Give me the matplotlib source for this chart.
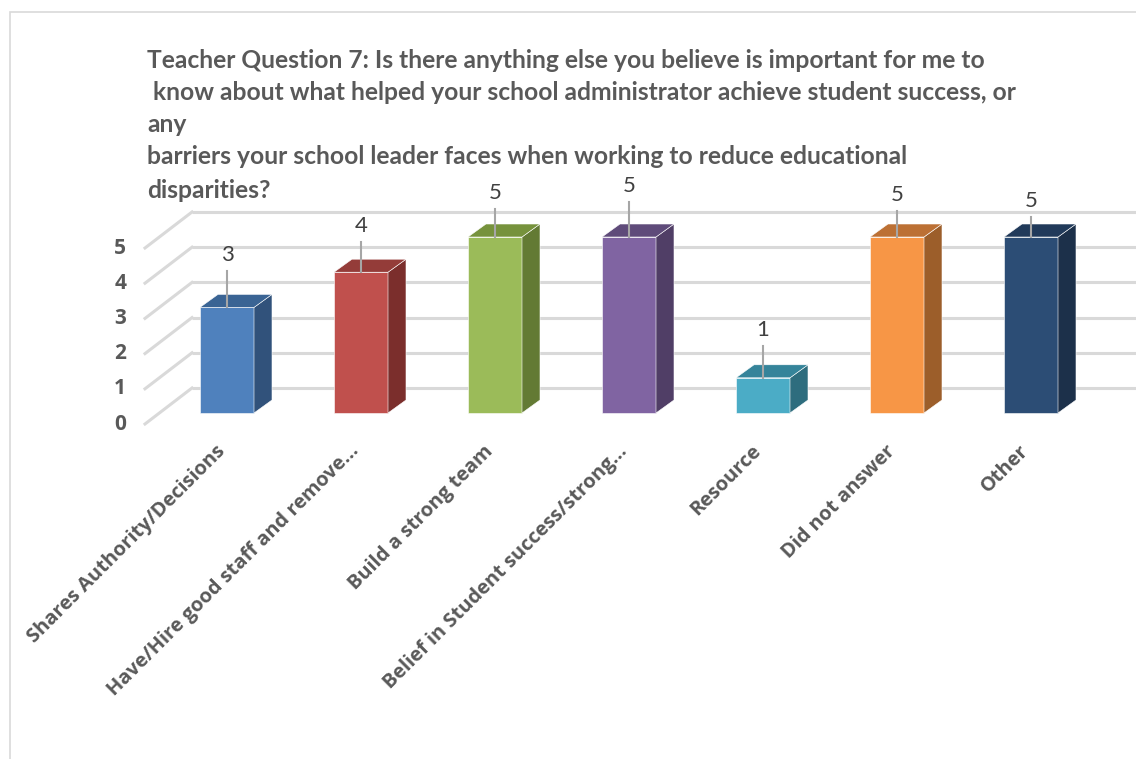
import matplotlib.pyplot as plt
from matplotlib.patches import Polygon, Rectangle

# survey answers for teacher question 7
categories = ['Shares Authority/Decisions', 'Have/Hire good staff and remove\u2026',
              'Build a strong team', 'Belief in Student success/strong\u2026',
              'Resource', 'Did not answer', 'Other']
counts = [3, 4, 5, 5, 1, 5, 5]
y_ticks = [0, 1, 2, 3, 4, 5]

title_lines = ['Teacher Question 7: Is there anything else you believe is important for me to',
               ' know about what helped your school administrator achieve student success, or',
               'any',
               'barriers your school leader faces when working to reduce educational',
               'disparities?']

# front / top / side shades of each bar
front_cols = ['#4F81BD', '#C0504D', '#9BBB59', '#8064A2', '#4BACC6', '#F79646', '#2C4D75']
top_cols = ['#3A6494', '#943C39', '#76923C', '#5F4B7A', '#35849A', '#BC7034', '#213A5A']
side_cols = ['#31527B', '#7B2E2C', '#637A34', '#503E66', '#2E6D7E', '#9C5E2A', '#1C304A']

# how far each data label sits above its bar (layout only)
label_lift = [1.49, 1.30, 1.25, 1.45, 1.35, 1.20, 1.03]

W, H = 1136, 759
fig = plt.figure(figsize=(W / 100, H / 100), dpi=100)
ax = fig.add_axes([0, 0, 1, 1])

# one category step = 134 px, one value unit = 35.2 px
x_px0, y_px0, sx, sy = 227, 413, 134.0, 35.2
ax.set_xlim(-x_px0 / sx, (W - x_px0) / sx)
ax.set_ylim((y_px0 - H) / sy, y_px0 / sy)
ax.axis('off')

grid_col = '#D9D9D9'
wall_dx, wall_dy = (192 - x_px0) / sx, (413 - 388) / sy   # back wall
left_dx, left_dy = (145 - x_px0) / sx, (413 - 424) / sy   # front edge of the side wall

for t in y_ticks:
    ax.plot([wall_dx, ax.get_xlim()[1]], [t + wall_dy, t + wall_dy],
            color=grid_col, lw=2.2, zorder=1, solid_capstyle='butt')
    ax.plot([left_dx, wall_dx], [t + left_dy, t + wall_dy],
            color=grid_col, lw=2.2, zorder=1)
    ax.text(left_dx - 0.14, t + left_dy, str(t), ha='right', va='center',
            fontsize=15, fontweight='bold', color='#595959', family='Open Sans')

bw = 54 / sx
dx, dy = 18 / sx, 13 / sy
for i, v in enumerate(counts):
    x0, x1 = i - bw / 2, i + bw / 2
    ax.bar(i, v, width=bw, color=front_cols[i], edgecolor='#FFFFFF',
           linewidth=0.4, zorder=3)
    ax.add_patch(Polygon([(x1, 0), (x1 + dx, dy), (x1 + dx, v + dy), (x1, v)],
                         closed=True, facecolor=side_cols[i], edgecolor='#FFFFFF',
                         linewidth=0.4, zorder=3))
    ax.add_patch(Polygon([(x0, v), (x1, v), (x1 + dx, v + dy), (x0 + dx, v + dy)],
                         closed=True, facecolor=top_cols[i], edgecolor='#FFFFFF',
                         linewidth=0.4, zorder=3))
    ly = v + label_lift[i]
    ax.plot([i, i], [v, ly - 0.45], color='#A6A6A6', lw=1.5, zorder=4)
    ax.text(i, ly, str(v), ha='center', va='center', fontsize=16,
            color='#404040', family='Lato', zorder=5)
    ax.text(i - 0.09, -0.8, categories[i], rotation=45, rotation_mode='anchor',
            ha='right', va='top', fontsize=14.4, fontweight='bold',
            color='#595959', family='Open Sans')

line_y = [60, 93, 125, 157, 190]
for txt, yp in zip(title_lines, line_y):
    fig.text(147 / W, 1 - yp / H, txt, ha='left', va='center', fontsize=17.7,
             fontweight='bold', color='#595959', family='Lato')

# chart area border (only top and left edges fall inside the image)
fig.patches.append(Rectangle((10 / W, -0.1), 1.2, 1 - 12 / H + 0.1,
                             transform=fig.transFigure, fill=False,
                             edgecolor='#D9D9D9', linewidth=1.2))

fig.savefig('out.png', dpi=100)
